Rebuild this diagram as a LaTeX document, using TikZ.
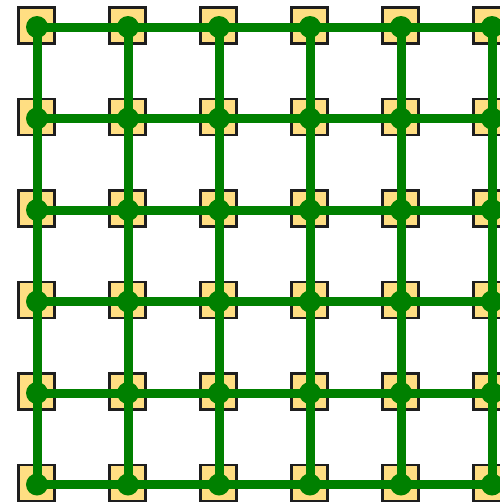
\documentclass[tikz,border=0pt]{standalone}
\definecolor{sqfill}{RGB}{255,222,130}
\definecolor{edgegreen}{RGB}{0,128,0}
\definecolor{sqborder}{RGB}{30,30,30}
\tikzset{
  sq/.style={draw=sqborder, line width=2.2pt, fill=sqfill, minimum size=36pt, inner sep=0pt},
  link/.style={draw=edgegreen, line width=9pt},
  dot/.style={fill=edgegreen, circle, minimum size=22pt, inner sep=0pt}
}
\begin{document}
\begin{tikzpicture}[x=1pt,y=-1pt]
\useasboundingbox (0,0) rectangle (500,504);
\clip (0,0) rectangle (500,504);
% squares and junction coordinates
\foreach \i in {0,...,5}{
  \foreach \j in {0,...,5}{
    \node[sq] (s-\i-\j) at ({36.5+91*\i},{25.5+91.5*\j}) {};
    \coordinate (c-\i-\j) at ({37+91*\i},{27+91.5*\j});
  }
}
\foreach \j in {0,...,5}{
  \coordinate (e-\j) at (520,{27+91.5*\j});
}
% horizontal links
\foreach \j in {0,...,5}{
  \draw[link] (c-0-\j) -- (c-1-\j) -- (c-2-\j) -- (c-3-\j) -- (c-4-\j) -- (c-5-\j) -- (e-\j);
}
% vertical links
\foreach \i in {0,...,5}{
  \draw[link] (c-\i-0) -- (c-\i-1) -- (c-\i-2) -- (c-\i-3) -- (c-\i-4) -- (c-\i-5);
}
% junction dots
\foreach \i in {0,...,5}{
  \foreach \j in {0,...,5}{
    \node[dot] (d-\i-\j) at (c-\i-\j) {};
  }
}
\end{tikzpicture}
\end{document}
